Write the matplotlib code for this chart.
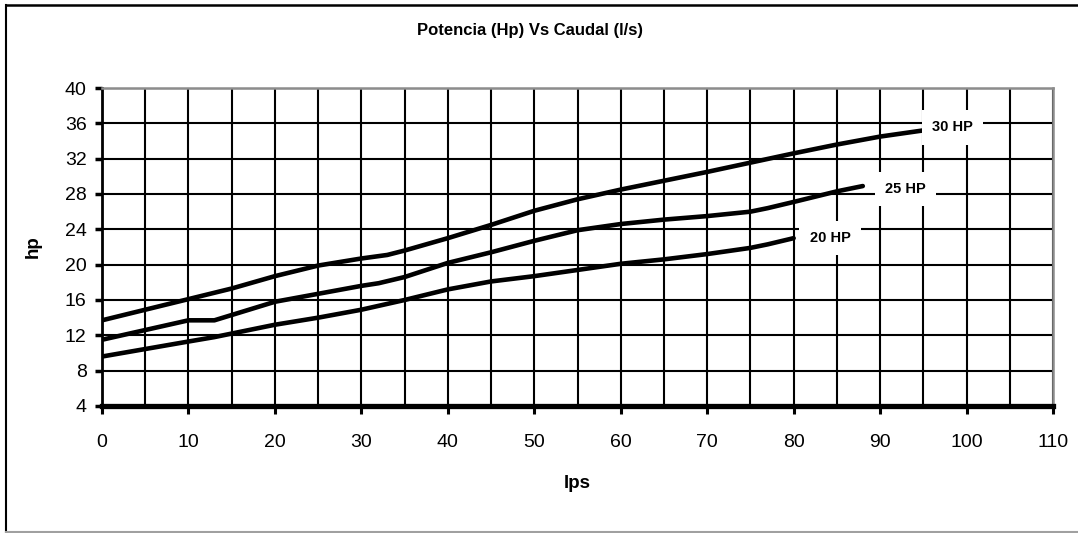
import matplotlib
matplotlib.use('Agg')
import matplotlib.pyplot as plt
from matplotlib.ticker import MultipleLocator
from matplotlib.lines import Line2D

plt.rcParams['font.family'] = ['Liberation Sans Narrow', 'Liberation Sans', 'DejaVu Sans']

# ---- data ----
x_30 = [0, 10, 15, 20, 25, 30, 33, 35, 40, 45, 50, 55, 60, 65, 70, 75, 80, 85, 90, 95]
hp_30 = [13.7, 16.1, 17.3, 18.7, 19.9, 20.7, 21.1, 21.6, 23.0, 24.5, 26.1, 27.4, 28.5,
         29.5, 30.5, 31.55, 32.6, 33.6, 34.5, 35.2]

x_25 = [0, 10, 13, 20, 25, 30, 32, 35, 40, 45, 50, 55, 60, 65, 70, 75, 77, 80, 85, 88]
hp_25 = [11.5, 13.7, 13.7, 15.8, 16.7, 17.6, 17.9, 18.6, 20.2, 21.4, 22.7, 23.9, 24.6,
         25.1, 25.5, 26.0, 26.4, 27.1, 28.3, 28.9]

x_20 = [0, 10, 13, 20, 25, 30, 35, 40, 45, 50, 55, 60, 65, 70, 75, 77, 80]
hp_20 = [9.6, 11.3, 11.8, 13.2, 14.0, 14.9, 16.0, 17.2, 18.1, 18.7, 19.4, 20.1, 20.6,
         21.2, 21.9, 22.3, 23.0]

series_labels = ['30 HP', '25 HP', '20 HP']
title = 'Potencia (Hp) Vs Caudal (l/s)'
xlabel = 'lps'
ylabel = 'hp'

# ---- figure ----
W, H = 1078, 533
fig = plt.figure(figsize=(W / 100, H / 100), dpi=100)
ax = fig.add_axes([102 / W, 127 / H, 951 / W, 318 / H])

ax.set_xlim(0, 110)
ax.set_ylim(4, 40)
ax.xaxis.set_major_locator(MultipleLocator(10))
ax.xaxis.set_minor_locator(MultipleLocator(5))
ax.yaxis.set_major_locator(MultipleLocator(4))

ax.set_axisbelow(True)
ax.grid(which='both', axis='x', color='black', lw=1.5)
ax.grid(which='major', axis='y', color='black', lw=1.5)

ax.tick_params(axis='x', which='major', direction='out', length=6, width=2.2,
               pad=14, labelsize=14)
ax.tick_params(axis='x', which='minor', length=0)
ax.tick_params(axis='y', which='major', direction='out', length=5, width=2.5,
               pad=6, labelsize=14)

ax.spines['left'].set_linewidth(2.0)
ax.spines['left'].set_color('black')
ax.spines['bottom'].set_linewidth(3.8)
ax.spines['bottom'].set_color('black')
ax.spines['top'].set_color('#8c8c8c')
ax.spines['top'].set_linewidth(1.8)
ax.spines['right'].set_color('#8c8c8c')
ax.spines['right'].set_linewidth(1.8)

lw = 3.3
series = [(x_30, hp_30), (x_25, hp_25), (x_20, hp_20)]
offsets = [(6.5, 2.2), (15.8, -2.2), (11.5, 0)]
for (xs, ys), lab, off in zip(series, series_labels, offsets):
    ax.plot(xs, ys, color='black', lw=lw, solid_capstyle='round', solid_joinstyle='round')
    ax.annotate(lab, xy=(xs[-1], ys[-1]), xytext=off, textcoords='offset points',
                ha='left', va='center', fontsize=10.5, fontweight='bold',
                bbox=dict(boxstyle='square,pad=0.7', facecolor='white', edgecolor='none'))

ax.set_xlabel(xlabel, fontsize=13.5, fontweight='bold')
ax.xaxis.set_label_coords(0.5, -(483 - 406) / 318)
ax.xaxis.label.set_va('center')
ax.set_ylabel(ylabel, fontsize=13.5, fontweight='bold')
ax.yaxis.set_label_coords((33 - 102) / 951, 0.5)
ax.yaxis.label.set_va('center')

fig.text(530 / W, 1 - 31 / H, title, ha='center', va='center',
         fontsize=12, fontweight='bold')

# outer chart border
fig.add_artist(Line2D([6 / W, 6 / W], [1.5 / H, 1 - 5 / H], color='black', lw=1.5,
                      transform=fig.transFigure))
fig.add_artist(Line2D([6 / W, 1.0], [1 - 5 / H, 1 - 5 / H], color='black', lw=1.8,
                      transform=fig.transFigure))
fig.add_artist(Line2D([6 / W, 1.0], [1.5 / H, 1.5 / H], color='#a0a0a0', lw=1.5,
                      transform=fig.transFigure))

fig.savefig('out.png', dpi=100)
